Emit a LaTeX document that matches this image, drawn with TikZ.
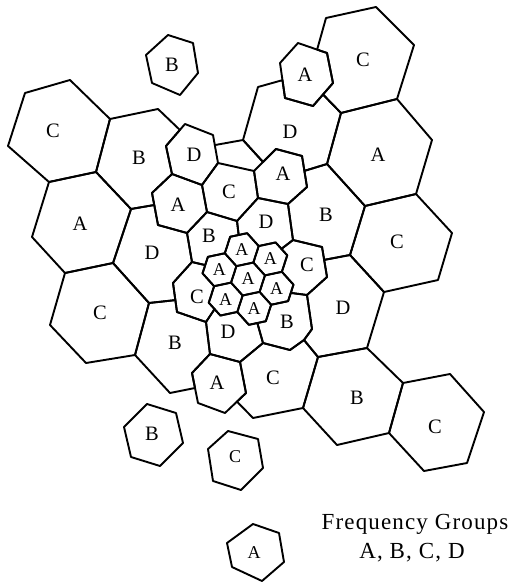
\documentclass[tikz,border=0pt]{standalone}
\usepackage{fontspec}
\setmainfont{Liberation Serif}
\usetikzlibrary{calc}
\begin{document}
\begin{tikzpicture}[x=1pt,y=-1pt,
  cell/.style={draw=black,line width=1.9pt,line join=round},
  lbl/.style={font=\fontsize{20.5}{20.5}\selectfont,inner sep=0pt},
  slbl/.style={font=\fontsize{18}{18}\selectfont,inner sep=0pt},
  legend/.style={font=\fontsize{23}{23}\selectfont\addfontfeature{LetterSpace=5},inner sep=0pt,anchor=base}]
\useasboundingbox (0,0) rectangle (511,583);

% ---- central cluster of seven small cells ----
\coordinate (fc) at (248,279);
\foreach \k/\ang in {0/18,1/78,2/138,3/198,4/258,5/318} {
  \coordinate (f\k) at ($(fc)+(\ang:30)$);
  \coordinate (m\k) at ($(fc)+(\ang:45)$);
}
\foreach \h in {fc,f0,f1,f2,f3,f4,f5} {
  \foreach \a in {48,108,168,228,288,348} {
    \coordinate (\h-\a) at ($(\h)+(\a:17.32)$);
  }
}

% ---- vertices of the surrounding cells ----
\coordinate (tl1) at (25,93);   \coordinate (tl2) at (70,80);
\coordinate (tl3) at (110,119); \coordinate (tl4) at (96,172);
\coordinate (tl5) at (49,182);  \coordinate (tl6) at (8,146);
\coordinate (q1) at (158,109);
\coordinate (ds1) at (185,124); \coordinate (ds2) at (213,135);
\coordinate (ds3) at (218,163); \coordinate (ds4) at (202,185);
\coordinate (ds5) at (172,174); \coordinate (ds6) at (166,146);
\coordinate (q2) at ($(ds1)!0.27!(ds6)$);
\coordinate (as4) at (187,233); \coordinate (as5) at (158,225);
\coordinate (as6) at (152,193);
\coordinate (q3) at ($(as6)!0.375!(as5)$);
\coordinate (q4) at (131,209);
\coordinate (cs2) at (254,171); \coordinate (cs3) at (258,198);
\coordinate (cs4) at (237,221); \coordinate (cs5) at (207,212);
\coordinate (at1) at (276,149); \coordinate (at2) at (302,156);
\coordinate (at3) at (307,187); \coordinate (at4) at (288,204);
\coordinate (r1) at ($(ds2)!0.36!(ds3)$);
\coordinate (r2) at (243,140);
\coordinate (r3) at ($(cs2)!0.41!(at1)$);
\coordinate (ut1) at (298,43);  \coordinate (ut2) at (327,53);
\coordinate (ut3) at (333,83);  \coordinate (ut4) at (313,106);
\coordinate (ut5) at (285,98);  \coordinate (ut6) at (280,63);
\coordinate (dA) at (258,87);
\coordinate (dB) at ($(ut6)!0.49!(ut5)$);
\coordinate (dC) at ($(ut3)!0.5!(ut4)$);
\coordinate (dD) at (341,113);  \coordinate (dE) at (327,164);
\coordinate (dF) at ($(at2)!0.48!(at3)$);
\coordinate (ct1) at (326,18);  \coordinate (ct2) at (376,7);
\coordinate (ct3) at (414,45);  \coordinate (ct4) at (397,99);
\coordinate (ct5) at ($(ut1)!0.66!(ut2)$);
\coordinate (ar1) at (432,140); \coordinate (ar2) at (416,194);
\coordinate (ar3) at (365,206);
\coordinate (br1) at (350,255);
\coordinate (c1a) at (293,240); \coordinate (c1b) at (322,247);
\coordinate (c1d) at (327,277); \coordinate (c1e) at (307,295);
\coordinate (br2) at ($(c1b)!0.43!(c1d)$);
\coordinate (cr1) at (452,233); \coordinate (cr2) at (438,280);
\coordinate (cr3) at (384,292);
\coordinate (dr1) at (367,348); \coordinate (dr2) at (318,357);
\coordinate (b2b) at (312,329); \coordinate (b2c) at (304,340);
\coordinate (b2d) at (290,350); \coordinate (d2r) at (263,343);
\coordinate (bb1) at (403,383); \coordinate (bb2) at (389,433);
\coordinate (bb3) at (337,445);
\coordinate (cbr1) at (450,374); \coordinate (cbr2) at (484,412);
\coordinate (cbr3) at (467,463); \coordinate (cbr4) at (424,471);
\coordinate (cb1) at (303,408); \coordinate (cb2) at (253,418);
\coordinate (ab1) at (192,373); \coordinate (ab2) at (210,354);
\coordinate (ab3) at (240,362); \coordinate (ab4) at (246,393);
\coordinate (ab5) at (225,413); \coordinate (ab6) at (198,403);
\coordinate (cb3) at ($(ab4)!0.43!(ab5)$);
\coordinate (bl0) at ($(ab1)!0.5!(ab6)$);
\coordinate (bl1) at (170,393);
\coordinate (cl1) at (65,273);  \coordinate (cl2) at (113,263);
\coordinate (cl3) at (149,303); \coordinate (cl4) at (135,355);
\coordinate (cl5) at (86,363);  \coordinate (cl6) at (50,325);
\coordinate (al1) at (32,237);
\coordinate (c2a) at (192,262); \coordinate (c2b) at (173,283);
\coordinate (c2e) at (177,312); \coordinate (c2f) at (206,322);
\coordinate (c2d) at ($(c2b)!0.59!(c2e)$);

% ---- cells ----
\draw[cell] (tl1) -- (tl2) -- (tl3) -- (tl4) -- (tl5) -- (tl6) -- cycle;
\draw[cell] (tl3) -- (q1) -- (q2) -- (ds6) -- (ds5) -- (as6) -- (q3) -- (q4) -- (tl4) -- cycle;
\draw[cell] (ds1) -- (ds2) -- (ds3) -- (ds4) -- (ds5) -- (ds6) -- cycle;
\draw[cell] (ds5) -- (ds4) -- (cs5) -- (as4) -- (as5) -- (as6) -- cycle;
\draw[cell] (ds3) -- (cs2) -- (cs3) -- (cs4) -- (cs5) -- (ds4) -- cycle;
\draw[cell] (at1) -- (at2) -- (at3) -- (at4) -- (cs3) -- (cs2) -- cycle;
\draw[cell] (r1) -- (r2) -- (r3);
\draw[cell] (dA) -- (dB) -- (ut5) -- (ut4) -- (dC) -- (dD) -- (dE) -- (dF) -- (at2) -- (at1) -- (r3) -- (r2) -- cycle;
\draw[cell] (ut1) -- (ut2) -- (ut3) -- (ut4) -- (ut5) -- (ut6) -- cycle;
\draw[cell] (ct1) -- (ct2) -- (ct3) -- (ct4) -- (dD) -- (dC) -- (ut3) -- (ut2) -- (ct5) -- cycle;
\draw[cell] (dD) -- (ct4) -- (ar1) -- (ar2) -- (ar3) -- (dE) -- cycle;
\draw[cell] (dF) -- (dE) -- (ar3) -- (br1) -- (br2) -- (c1b) -- (c1a) -- (at4) -- (at3) -- cycle;
\draw[cell] (ar3) -- (ar2) -- (cr1) -- (cr2) -- (cr3) -- (br1) -- cycle;
\draw[cell] (br2) -- (br1) -- (cr3) -- (dr1) -- (dr2) -- (b2c) -- (b2b) -- (c1e) -- (c1d) -- cycle;
\draw[cell] (dr2) -- (dr1) -- (bb1) -- (bb2) -- (bb3) -- (cb1) -- cycle;
\draw[cell] (bb1) -- (cbr1) -- (cbr2) -- (cbr3) -- (cbr4) -- (bb2) -- cycle;
\draw[cell] (ab3) -- (d2r) -- (b2d) -- (b2c) -- (dr2) -- (cb1) -- (cb2) -- (cb3) -- (ab4) -- cycle;
\draw[cell] (ab1) -- (ab2) -- (ab3) -- (ab4) -- (ab5) -- (ab6) -- cycle;
\draw[cell] (cl3) -- (c2d) -- (c2e) -- (c2f) -- (ab2) -- (ab1) -- (bl0) -- (bl1) -- (cl4) -- cycle;
\draw[cell] (cl1) -- (cl2) -- (cl3) -- (cl4) -- (cl5) -- (cl6) -- cycle;
\draw[cell] (tl5) -- (tl4) -- (q4) -- (cl2) -- (cl1) -- (al1) -- cycle;
\draw[cell] (q4) -- (q3) -- (as5) -- (as4) -- (c2a) -- (c2b) -- (c2d) -- (cl3) -- (cl2) -- cycle;
% ring round the central cluster
\draw[cell] (as4) -- (cs5) -- (cs4) -- (m4) -- (f4-228) -- (f4-168) -- (f3-228) -- (m3) -- (c2a) -- cycle;
\draw[cell] (cs4) -- (cs3) -- (at4) -- (c1a) -- (m5) -- (f5-288) -- (f5-228) -- (f4-288) -- (m4) -- cycle;
\draw[cell] (c1a) -- (c1b) -- (br2) -- (c1d) -- (c1e) -- (m0) -- (f0-348) -- (f0-288) -- (f5-348) -- (m5) -- cycle;
\draw[cell] (m0) -- (f0-48) -- (f0-108) -- (f1-48) -- (m1) -- (d2r) -- (b2d) -- (b2c) -- (b2b) -- (c1e) -- cycle;
\draw[cell] (m1) -- (f1-108) -- (f1-168) -- (f2-108) -- (m2) -- (c2f) -- (ab2) -- (ab3) -- (d2r) -- cycle;
\draw[cell] (m2) -- (f2-168) -- (f2-228) -- (f3-168) -- (m3) -- (c2a) -- (c2b) -- (c2d) -- (c2e) -- (c2f) -- cycle;
\foreach \h in {fc,f0,f1,f2,f3,f4,f5}
  \draw[cell] (\h-48) -- (\h-108) -- (\h-168) -- (\h-228) -- (\h-288) -- (\h-348) -- cycle;

% ---- separate cells ----
\draw[cell] (168,35) -- (193,43) -- (198,73) -- (180,95) -- (152,83) -- (146,55) -- cycle;
\draw[cell] (147,404) -- (176,413) -- (183,443) -- (160,466) -- (131,457) -- (124,427) -- cycle;
\draw[cell] (208,449) -- (228,431) -- (258,439) -- (263,468) -- (241,490) -- (213,481) -- cycle;
\draw[cell] (227,543) -- (253,524) -- (279,533) -- (284,562) -- (262,581) -- (232,567) -- cycle;

% ---- frequency group labels ----
\node[lbl] (lb0) at (172,65) {B};
\node[lbl] (lc1) at (53,131) {C};
\node[lbl] (lb1) at (139,158) {B};
\node[lbl] (ld1) at (194,155) {D};
\node[lbl] (la1) at (178,205) {A};
\node[lbl] (lc2) at (229,192) {C};
\node[lbl] (la2) at (283,174) {A};
\node[lbl] (ld2) at (290,132) {D};
\node[lbl] (la3) at (305,75) {A};
\node[lbl] (lc3) at (363,60) {C};
\node[lbl] (la4) at (378,155) {A};
\node[lbl] (lb2) at (326,215) {B};
\node[lbl] (lc4) at (397,242) {C};
\node[lbl] (la5) at (80,224) {A};
\node[lbl] (ld3) at (152,253) {D};
\node[lbl] (lb3) at (209,236) {B};
\node[lbl] (ld4) at (266,222) {D};
\node[lbl] (lc5) at (307,265) {C};
\node[lbl] (lc6) at (197,297) {C};
\node[lbl] (lb4) at (287,322) {B};
\node[lbl] (ld5) at (228,332) {D};
\node[lbl] (lc7) at (100,313) {C};
\node[lbl] (lb5) at (175,343) {B};
\node[lbl] (ld6) at (343,308) {D};
\node[lbl] (la6) at (217,383) {A};
\node[lbl] (lc8) at (273,378) {C};
\node[lbl] (lb6) at (357,398) {B};
\node[lbl] (lc9) at (435,427) {C};
\node[lbl] (lb7) at (152,434) {B};
\node[slbl] (lc10) at (235,457) {C};
\node[slbl] (la7) at (254,553) {A};
\foreach \h in {fc,f0,f1,f2,f3,f4,f5}
  \node[slbl] (l\h) at (\h) {A};

% ---- legend ----
\node[legend] (leg1) at (415,529) {Frequency Groups};
\node[legend] (leg2) at (412,558) {A, B, C, D};
\end{tikzpicture}
\end{document}
